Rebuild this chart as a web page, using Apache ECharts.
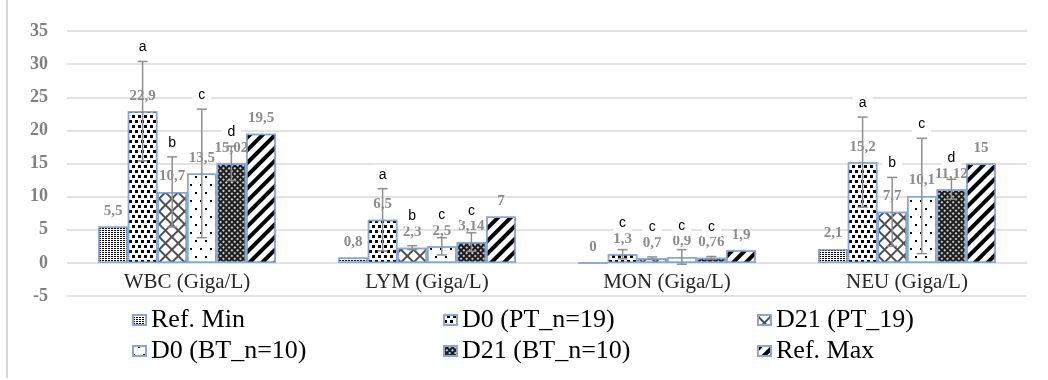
<!DOCTYPE html>
<html>
<head>
<meta charset="utf-8">
<script src="https://cdn.jsdelivr.net/npm/echarts@6/dist/echarts.min.js"></script>
<style>
html, body { margin: 0; padding: 0; background: #fff; }
#main { width: 1048px; height: 380px; }
</style>
</head>
<body>
<div id="main"></div>
<script>
var categories = ['WBC (Giga/L)', 'LYM (Giga/L)', 'MON (Giga/L)', 'NEU (Giga/L)'];
var seriesNames = ['Ref. Min', 'D0 (PT_n=19)', 'D21 (PT_19)', 'D0 (BT_n=10)', 'D21 (BT_n=10)', 'Ref. Max'];

var refMin = [5.5, 0.8, 0, 2.1];
var d0PT = [22.9, 6.5, 1.3, 15.2];
var d21PT = [10.7, 2.3, 0.7, 7.7];
var d0BT = [13.5, 2.5, 0.9, 10.1];
var d21BT = [15.02, 3.14, 0.76, 11.12];
var refMax = [19.5, 7, 1.9, 15];

// standard deviations (error bars)
var d0PTErr = [7.5, 4.7, 0.7, 6.8];
var d21PTErr = [5.3, 0.3, 0.2, 5.2];
var d0BTErr = [9.7, 1.3, 1.1, 8.7];
var d21BTErr = [2.6, 1.4, 0.2, 1.5];

// significance letters
var d0PTLetters = ['a', 'a', 'c', 'a'];
var d21PTLetters = ['b', 'b', 'c', 'b'];
var d0BTLetters = ['c', 'c', 'c', 'c'];
var d21BTLetters = ['d', 'c', 'c', 'd'];

var yMin = -5;
var yMax = 35;
var yStep = 5;

var CAT_GAP = 0.26;
var NBARS = 6;

var chartDom = document.getElementById('main');
var myChart = echarts.init(chartDom);

var decals = [
    { symbol: 'rect', symbolSize: 1, color: '#000', dashArrayX: [[2, 1]], dashArrayY: [1, 1] },
    { symbol: 'rect', symbolSize: 1, color: '#000', dashArrayX: [[3, 3], [0, 3, 3, 0]], dashArrayY: [3, 2] },
    { symbol: 'rect', symbolSize: 1, color: '#505050', dashArrayX: [[9, 0], [2, 7]], dashArrayY: [2, 0, 7, 0], rotation: Math.PI / 4 },
    { symbol: 'rect', symbolSize: 1, color: '#000', dashArrayX: [[2, 8], [0, 5, 2, 3]], dashArrayY: [2, 6] },
    { symbol: 'rect', symbolSize: 1, color: '#c8c8c8', dashArrayX: [[2, 2]], dashArrayY: [2, 2], rotation: Math.PI / 4 },
    { symbol: 'rect', symbolSize: 1, color: '#000', dashArrayX: [[1, 0]], dashArrayY: [4, 5], rotation: -Math.PI / 4 }
];
var barColors = ['#fff', '#fff', '#fff', '#fff', '#1e1e1e', '#fff'];

function barSeries(idx, values) {
    return {
        name: seriesNames[idx],
        type: 'bar',
        barGap: '0%',
        barCategoryGap: (CAT_GAP * 100) + '%',
        data: values,
        itemStyle: {
            color: barColors[idx],
            borderColor: '#86a8d8',
            borderWidth: 1.5,
            decal: decals[idx]
        },
        label: {
            show: true,
            position: 'top',
            distance: 8,
            color: '#8c8c8c',
            fontFamily: 'Liberation Serif',
            fontWeight: 'bold',
            fontSize: 15,
            formatter: function (p) {
                return String(p.value).replace('.', ',');
            }
        }
    };
}

function errorSeries(idx, values, errs, letters) {
    return {
        name: seriesNames[idx] + ' err',
        type: 'custom',
        z: 4,
        data: values.map(function (v, i) { return [i, v, errs[i]]; }),
        encode: { x: 0, y: 1 },
        renderItem: function (params, api) {
            var cat = api.value(0);
            var v = api.value(1);
            var e = api.value(2);
            var band = api.size([1, 0])[0];
            var groupW = band * (1 - CAT_GAP);
            var bw = groupW / NBARS;
            var x = api.coord([cat, v])[0] - groupW / 2 + bw * (idx + 0.5);
            var top = api.coord([cat, v + e])[1];
            var bot = api.coord([cat, v - e])[1];
            var barTop = api.coord([cat, v])[1];
            var ly = Math.min(top - 14, barTop - 31);
            var ls = { stroke: '#8f8f8f', lineWidth: 1.5 };
            return {
                type: 'group',
                children: [
                    { type: 'line', shape: { x1: x, y1: top, x2: x, y2: bot }, style: ls },
                    { type: 'line', shape: { x1: x - 5, y1: top, x2: x + 5, y2: top }, style: ls },
                    { type: 'line', shape: { x1: x - 5, y1: bot, x2: x + 5, y2: bot }, style: ls },
                    {
                        type: 'text', x: x, y: ly, z2: 10,
                        style: {
                            text: letters[params.dataIndex],
                            fill: '#000',
                            fontSize: 14,
                            fontFamily: 'Liberation Sans',
                            align: 'center',
                            verticalAlign: 'middle',
                            backgroundColor: '#fff',
                            padding: [3, 6]
                        }
                    }
                ]
            };
        }
    };
}

var legendText = { fontFamily: 'Liberation Serif', fontSize: 26, color: '#000' };
function legendCol(names, left) {
    return {
        data: names,
        orient: 'vertical',
        left: left,
        top: 307,
        icon: 'rect',
        itemWidth: 13,
        itemHeight: 10,
        itemGap: 5,
        padding: 0,
        textStyle: legendText
    };
}

var option = {
    animation: false,
    backgroundColor: '#fff',
    grid: { left: 67, right: 21, top: 31, bottom: 84 },
    legend: [
        legendCol([seriesNames[0], seriesNames[3]], 132),
        legendCol([seriesNames[1], seriesNames[4]], 443),
        legendCol([seriesNames[2], seriesNames[5]], 757)
    ],
    xAxis: {
        type: 'category',
        data: categories,
        axisLine: { show: false, onZero: false },
        axisTick: { show: false },
        axisLabel: {
            fontFamily: 'Liberation Serif',
            fontSize: 21,
            color: '#262626',
            margin: -24
        }
    },
    yAxis: {
        type: 'value',
        min: yMin,
        max: yMax,
        interval: yStep,
        axisLine: { show: false },
        axisTick: { show: false },
        splitLine: { lineStyle: { color: '#d9d9d9', width: 1.5 } },
        axisLabel: {
            fontFamily: 'Liberation Serif',
            fontWeight: 'bold',
            fontSize: 18,
            color: '#808080',
            margin: 19
        }
    },
    graphic: [
        {
            type: 'line',
            shape: { x1: 7, y1: 0, x2: 7, y2: 378 },
            style: { stroke: '#d9d9d9', lineWidth: 2 }
        }
    ],
    series: [
        barSeries(0, refMin),
        barSeries(1, d0PT),
        barSeries(2, d21PT),
        barSeries(3, d0BT),
        barSeries(4, d21BT),
        barSeries(5, refMax),
        errorSeries(1, d0PT, d0PTErr, d0PTLetters),
        errorSeries(2, d21PT, d21PTErr, d21PTLetters),
        errorSeries(3, d0BT, d0BTErr, d0BTLetters),
        errorSeries(4, d21BT, d21BTErr, d21BTLetters)
    ]
};

option && myChart.setOption(option);
window.addEventListener('resize', function () {
    myChart.resize();
});
</script>
</body>
</html>
